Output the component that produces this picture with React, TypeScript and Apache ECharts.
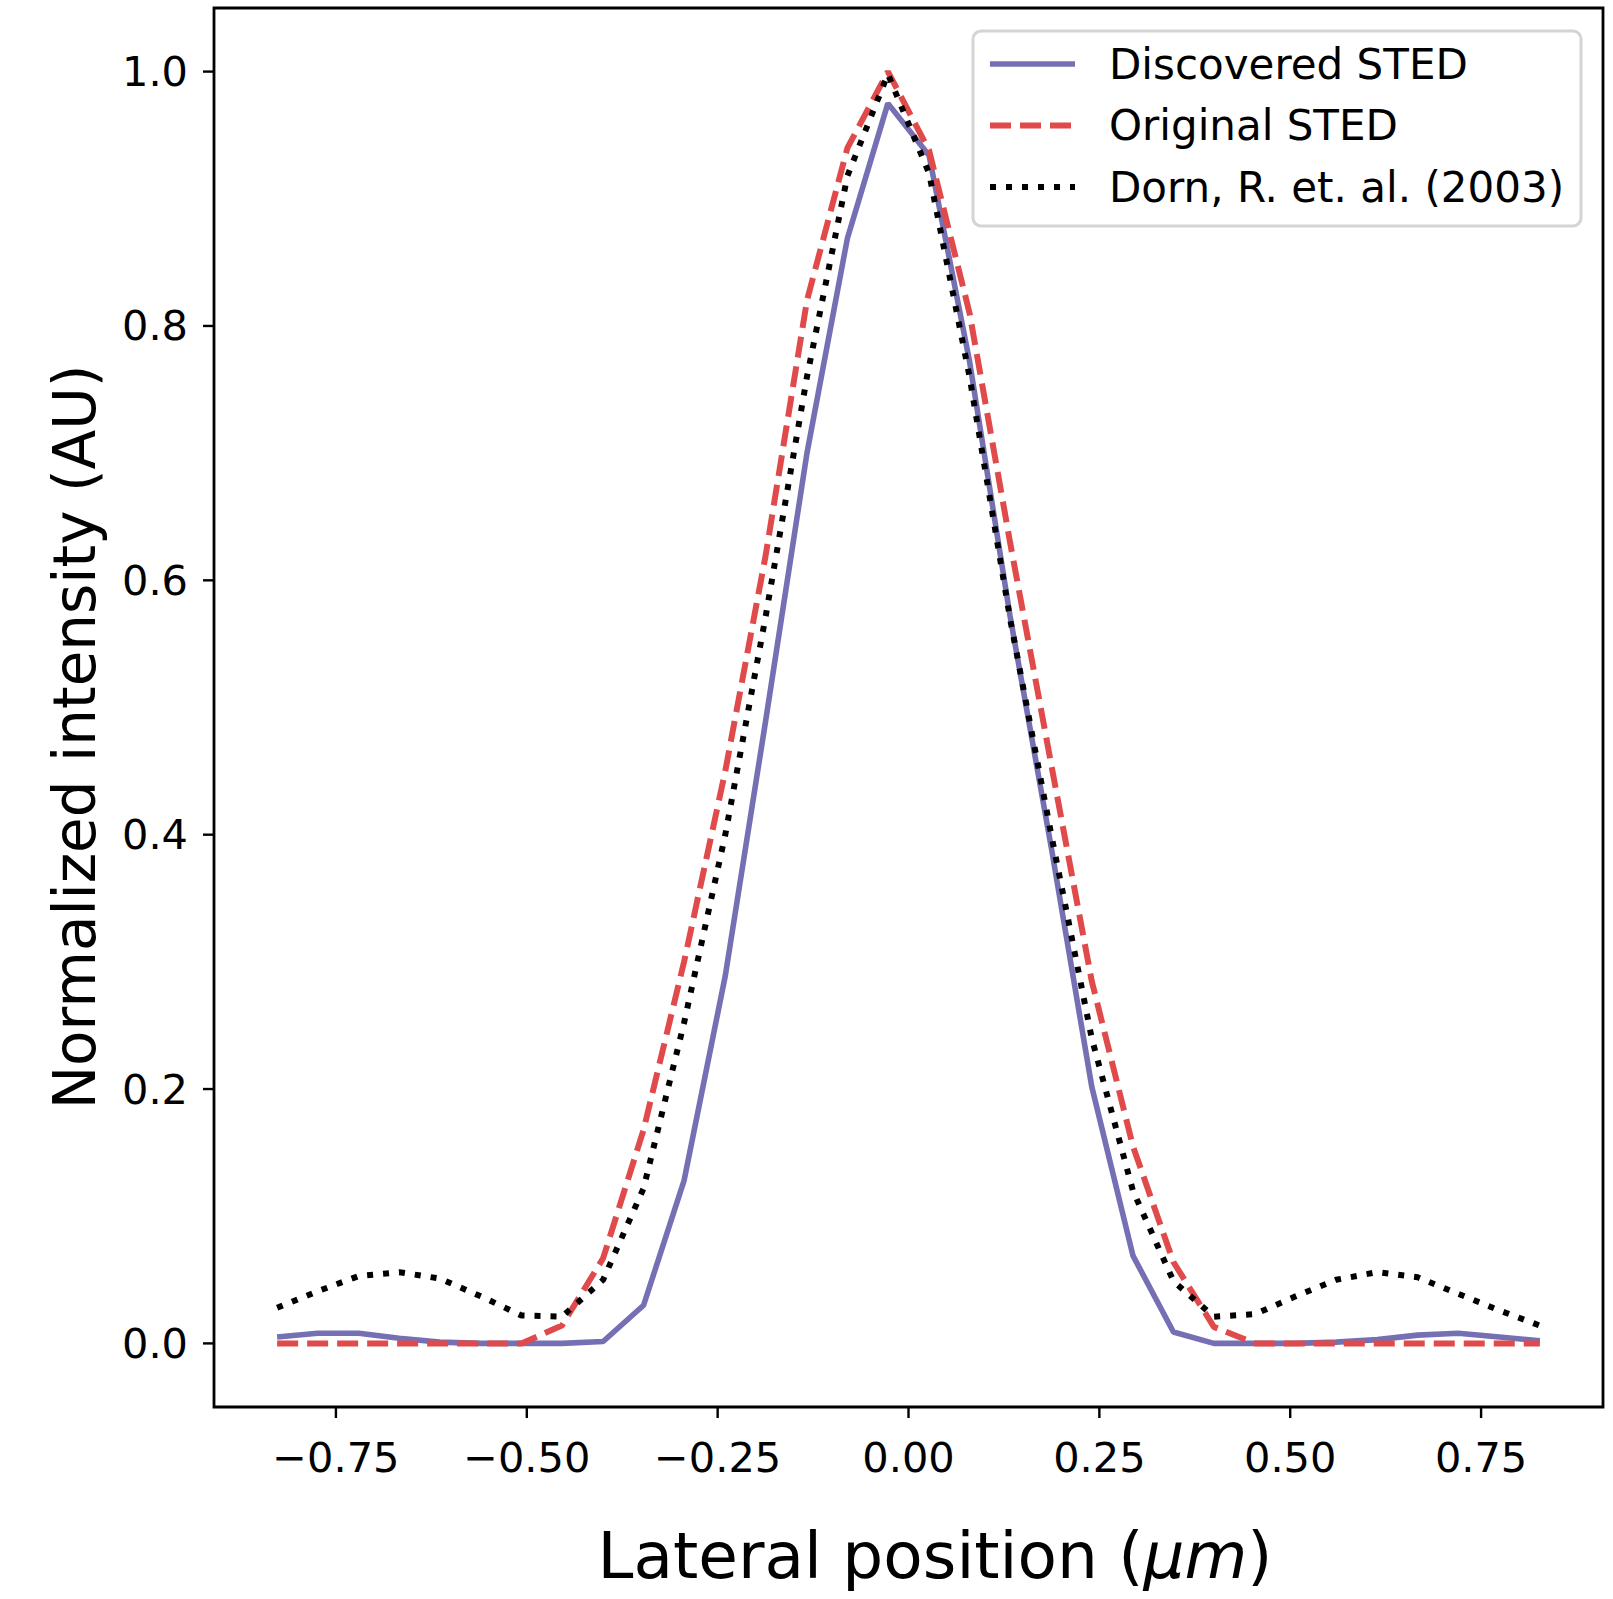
import React, { useEffect, useRef } from "react";
import * as echarts from "echarts";

const xPositions = [
  -0.827, -0.774, -0.72, -0.667, -0.614, -0.56, -0.507, -0.454, -0.4, -0.347, -0.294,
  -0.24, -0.187, -0.133, -0.08, -0.027, 0.027, 0.08, 0.133, 0.187, 0.24, 0.294, 0.347,
  0.4, 0.454, 0.507, 0.56, 0.614, 0.667, 0.72, 0.774, 0.827,
];
const discoveredSted = [
  0.005, 0.008, 0.008, 0.004, 0.001, 0, 0, 0, 0.0015, 0.03, 0.128, 0.289, 0.49, 0.7, 0.869,
  0.975, 0.934, 0.772, 0.572, 0.39, 0.202, 0.069, 0.009, 0, 0, 0, 0.001, 0.003, 0.0065,
  0.008, 0.005, 0.002,
];
const originalSted = [
  0, 0, 0, 0, 0, 0, 0, 0.014, 0.067, 0.168, 0.3, 0.45, 0.62, 0.82, 0.94, 1.0, 0.938, 0.81,
  0.63, 0.455, 0.285, 0.155, 0.064, 0.013, 0, 0, 0, 0, 0, 0, 0, 0,
];
const dorn2003 = [
  0.028, 0.041, 0.053, 0.056, 0.051, 0.037, 0.022, 0.021, 0.05, 0.122, 0.252, 0.4, 0.572,
  0.76, 0.918, 0.998, 0.92, 0.76, 0.57, 0.4, 0.24, 0.12, 0.049, 0.021, 0.023, 0.037, 0.05,
  0.056, 0.052, 0.039, 0.026, 0.014,
];
const seriesNames = ["Discovered STED", "Original STED", "Dorn, R. et. al. (2003)"];
const xTickValues = [-0.75, -0.5, -0.25, 0, 0.25, 0.5, 0.75];
const xTickLabels = ["\u22120.75", "\u22120.50", "\u22120.25", "0.00", "0.25", "0.50", "0.75"];
const yTickValues = [0, 0.2, 0.4, 0.6, 0.8, 1.0];
const yTickLabels = ["0.0", "0.2", "0.4", "0.6", "0.8", "1.0"];
const xTitle = "Lateral position (";
const xTitleUnit = "\u03bcm";
const yTitle = "Normalized intensity (AU)";

const X_MIN = -0.9097;
const X_MAX = 0.9097;
const Y_MIN = -0.05;
const Y_MAX = 1.05;

const FONT = "DejaVu Sans";
const COLORS = ["#7570b3", "#e04a4a", "#000000"];
const WIDTHS = [5.6, 6, 6];
const DASHES: (number[] | null)[] = [null, [21, 9], [6, 10]];
const TICK_LEN = 11;
const TICK_W = 2.4;

function labelFor(values: number[], labels: string[], v: number) {
  let best = 0;
  for (let i = 1; i < values.length; i++) {
    if (Math.abs(values[i] - v) < Math.abs(values[best] - v)) best = i;
  }
  return labels[best];
}

export default function App() {
  const ref = useRef<HTMLDivElement>(null);
  useEffect(() => {
    if (!ref.current) return;
    const chart = echarts.init(ref.current, null, { renderer: "svg" });
    const pair = (ys: number[]) => xPositions.map((x, i) => [x, ys[i]]);
    const allSeries = [discoveredSted, originalSted, dorn2003];

    const legendRowsY = [64, 125.5, 187];
    const legendGraphics: any[] = [
      {
        type: "rect",
        shape: { x: 973, y: 31, width: 608, height: 195, r: 8 },
        style: { fill: "rgba(255,255,255,0.8)", stroke: "#d4d4d4", lineWidth: 3 },
        z: 10,
      },
    ];
    seriesNames.forEach((name, i) => {
      legendGraphics.push({
        type: "line",
        shape: { x1: 990, y1: legendRowsY[i], x2: 1075, y2: legendRowsY[i] },
        style: {
          stroke: COLORS[i],
          lineWidth: WIDTHS[i],
          lineDash: DASHES[i] || undefined,
          lineCap: "butt",
        },
        z: 11,
      });
      legendGraphics.push({
        type: "text",
        x: 1109,
        y: legendRowsY[i],
        style: {
          text: name,
          fontSize: 42,
          fontFamily: FONT,
          fill: "#000",
          align: "left",
          verticalAlign: "middle",
        },
        z: 11,
      });
    });

    const titleGraphics: any[] = [
      {
        type: "text",
        x: 935,
        y: 1555,
        style: {
          text: `{n|${xTitle}}{i|${xTitleUnit}}{n|)}`,
          align: "center",
          verticalAlign: "middle",
          rich: {
            n: { fontSize: 64.5, fontFamily: FONT, fill: "#000" },
            i: { fontSize: 64.5, fontFamily: FONT, fontStyle: "italic", fill: "#000" },
          },
        },
      },
      {
        type: "text",
        x: 75,
        y: 737,
        rotation: Math.PI / 2,
        style: {
          text: yTitle,
          align: "center",
          verticalAlign: "middle",
          fontSize: 58,
          fontFamily: FONT,
          fill: "#000",
        },
      },
    ];

    const lineSeries = allSeries.map((ys, i) => ({
      name: seriesNames[i],
      type: "line",
      data: pair(ys),
      showSymbol: false,
      symbol: "none",
      lineStyle: {
        color: COLORS[i],
        width: WIDTHS[i],
        type: DASHES[i] || "solid",
        cap: "butt",
      },
      itemStyle: { color: COLORS[i] },
      z: 2 + i,
    }));

    chart.setOption({
      animation: false,
      backgroundColor: "#fff",
      grid: {
        left: 214,
        top: 8,
        width: 1389,
        height: 1399,
        show: true,
        borderColor: "#000",
        borderWidth: 2.8,
        outerBoundsMode: "none",
        containLabel: false,
      },
      xAxis: {
        type: "value",
        position: "bottom",
        min: X_MIN,
        max: X_MAX,
        splitLine: { show: false },
        axisLine: { show: false, onZero: false },
        axisTick: { show: false },
        axisLabel: {
          show: true,
          customValues: xTickValues,
          margin: 29,
          fontSize: 41.5,
          fontFamily: FONT,
          color: "#000",
          formatter: (v: number) => labelFor(xTickValues, xTickLabels, v),
        },
      },
      yAxis: {
        type: "value",
        position: "left",
        min: Y_MIN,
        max: Y_MAX,
        splitLine: { show: false },
        axisLine: { show: false, onZero: false },
        axisTick: { show: false },
        axisLabel: {
          show: true,
          customValues: yTickValues,
          margin: 26,
          fontSize: 41.5,
          fontFamily: FONT,
          color: "#000",
          formatter: (v: number) => labelFor(yTickValues, yTickLabels, v),
        },
      },
      series: lineSeries,
      graphic: [...legendGraphics, ...titleGraphics],
    });

    // tick marks positioned through the chart's own axis scales
    const tickGraphics: any[] = [];
    xTickValues.forEach((v) => {
      const p = chart.convertToPixel({ gridIndex: 0 }, [v, Y_MIN]) as number[];
      tickGraphics.push({
        type: "line",
        shape: { x1: p[0], y1: p[1], x2: p[0], y2: p[1] + TICK_LEN },
        style: { stroke: "#000", lineWidth: TICK_W },
        z: 30,
      });
    });
    yTickValues.forEach((v) => {
      const p = chart.convertToPixel({ gridIndex: 0 }, [X_MIN, v]) as number[];
      tickGraphics.push({
        type: "line",
        shape: { x1: p[0], y1: p[1], x2: p[0] - TICK_LEN, y2: p[1] },
        style: { stroke: "#000", lineWidth: TICK_W },
        z: 30,
      });
    });
    chart.setOption({
      graphic: [...legendGraphics, ...titleGraphics, ...tickGraphics],
    });

    return () => chart.dispose();
  }, []);
  return (
    <div
      ref={ref}
      style={{ position: "absolute", left: 0, top: 0, width: 1613, height: 1599 }}
    />
  );
}
